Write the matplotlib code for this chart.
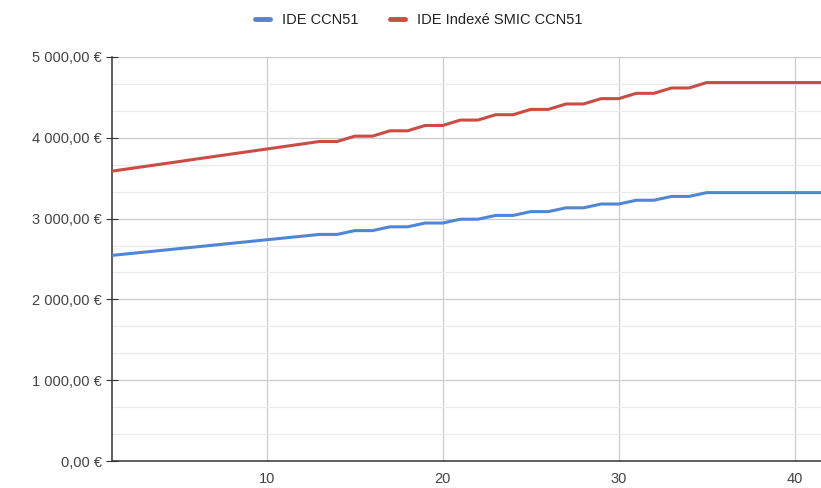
import matplotlib
matplotlib.use("Agg")
import matplotlib.pyplot as plt
from matplotlib.ticker import MultipleLocator, FuncFormatter
import numpy as np

plt.rcParams['font.family'] = ['Liberation Sans', 'DejaVu Sans']

annees = list(range(1, 43))
ide_ccn51 = [2540, 2562, 2584, 2606, 2628, 2650, 2672, 2694, 2716, 2738,
             2760, 2782, 2804, 2804, 2851, 2851, 2898, 2898, 2945, 2945,
             2992, 2992, 3039, 3039, 3086, 3086, 3133, 3133, 3180, 3180,
             3227, 3227, 3274, 3274, 3321, 3321, 3321, 3321, 3321, 3321,
             3321, 3321]
ide_indexe = [3581, 3612, 3643, 3674, 3705, 3737, 3768, 3799, 3830, 3861,
              3892, 3923, 3954, 3954, 4020, 4020, 4086, 4086, 4152, 4152,
              4219, 4219, 4285, 4285, 4351, 4351, 4418, 4418, 4484, 4484,
              4550, 4550, 4616, 4616, 4683, 4683, 4683, 4683, 4683, 4683,
              4683, 4683]
noms = ['IDE CCN51', 'IDE Indexé SMIC CCN51']
couleurs = ['#4f86d6', '#cc4b42']

fig = plt.figure(figsize=(8.21, 4.88), dpi=100)
ax = fig.add_axes([0.1364, 0.0553, 0.8636, 0.828])

ax.plot(annees, ide_ccn51, color=couleurs[0], lw=2.2, label=noms[0], zorder=3)
ax.plot(annees, ide_indexe, color=couleurs[1], lw=2.2, label=noms[1], zorder=3)

ax.set_xlim(1.2, 41.5)
ax.set_ylim(0, 5000)

ax.xaxis.set_major_locator(MultipleLocator(10))
ax.yaxis.set_major_locator(MultipleLocator(1000))
ax.yaxis.set_minor_locator(MultipleLocator(1000 / 3))

def euro(v, pos):
    s = f"{v:,.2f}".replace(",", " ").replace(".", ",")
    return s + " €"

ax.yaxis.set_major_formatter(FuncFormatter(euro))

ax.grid(which='major', color='#cccccc', lw=0.9, zorder=0)
ax.grid(which='minor', axis='y', color='#ebebeb', lw=0.9, zorder=0)
ax.set_axisbelow(True)

for s in ['top', 'right']:
    ax.spines[s].set_visible(False)
ax.spines['left'].set_color('#333333')
ax.spines['bottom'].set_color('#333333')
ax.spines['left'].set_linewidth(1.1)
ax.spines['bottom'].set_linewidth(1.1)

ax.tick_params(axis='y', which='major', direction='inout', length=9,
               color='#333333', labelsize=10.5, labelcolor='#444444', pad=3)
ax.tick_params(axis='y', which='minor', length=0)
ax.tick_params(axis='x', length=0, labelsize=10.5, labelcolor='#444444', pad=8)

leg = fig.legend(loc='upper center', bbox_to_anchor=(0.51, 1.0), ncol=2, frameon=False,
                 fontsize=10.5, handlelength=1.0, handletextpad=0.8, columnspacing=2.2,
                 labelcolor='#222222')
for h in leg.legend_handles:
    h.set_linewidth(3.5)
    h.set_solid_capstyle('round')

fig.savefig('out.png', dpi=100)
